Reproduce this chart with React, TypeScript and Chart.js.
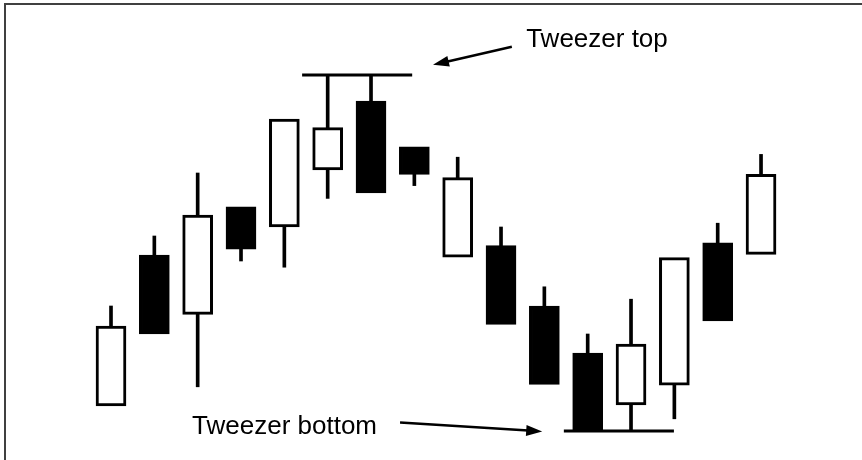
import React, { useEffect, useRef } from "react";
import { Chart, registerables } from "chart.js";

Chart.register(...registerables);

// Candle index (time) and OHLC prices
const CANDLE_INDEX = [0, 1, 2, 3, 4, 5, 6, 7, 8, 9, 10, 11, 12, 13, 14, 15];
const OPEN = [13.5, 51.25, 36.4, 63.3, 58.3, 72.5, 89.75, 78.3, 50.7, 53.6, 38.5, 26.7, 13.75, 18.7, 54.3, 51.4];
const CLOSE = [33.5, 31.5, 61.25, 52.7, 85.25, 83.1, 66.8, 71.4, 70.6, 33.9, 18.9, 7.25, 29, 50.6, 34.75, 71.4];
const HIGH = [38.5, 56, 71.75, 63.3, 85.25, 96.25, 96.25, 78.3, 75.7, 58.25, 43.3, 31.5, 40.2, 50.6, 59.2, 76.4];
const LOW = [13.5, 31.5, 18.3, 49.75, 48.2, 65.4, 66.8, 68.6, 50.7, 33.9, 18.9, 7.25, 7.25, 10.3, 34.75, 51.4];

// Tweezer level lines: [xStart, xEnd, price]
const TWEEZER_TOP = [4.41, 6.95, 96.25];
const TWEEZER_BOTTOM = [10.45, 12.99, 7.25];

// Annotation labels and arrows (data units)
const LABEL_TEXTS = ["Tweezer top", "Tweezer bottom"];
const LABEL_X = [9.58, 1.87];
const LABEL_Y = [103.25, 6.5];
const ARROW_FROM_X = [9.25, 6.67];
const ARROW_FROM_Y = [103.3, 9.4];
const ARROW_TO_X = [7.43, 9.95];
const ARROW_TO_Y = [98.8, 7.15];

const X_MIN = -2.5615;
const X_MAX = 17.33;
const Y_MIN = 0;
const Y_MAX = 115;

const annotationPlugin = {
  id: "tweezerAnnotations",
  afterDatasetsDraw(chart: any) {
    const ctx = chart.ctx;
    const xs = chart.scales.x;
    const ys = chart.scales.y;
    ctx.save();
    ctx.fillStyle = "#000";
    ctx.strokeStyle = "#000";
    for (let i = 0; i < ARROW_FROM_X.length; i++) {
      const x1 = xs.getPixelForValue(ARROW_FROM_X[i]);
      const y1 = ys.getPixelForValue(ARROW_FROM_Y[i]);
      const x2 = xs.getPixelForValue(ARROW_TO_X[i]);
      const y2 = ys.getPixelForValue(ARROW_TO_Y[i]);
      const ang = Math.atan2(y2 - y1, x2 - x1);
      const headLen = 16;
      const headHalf = 5.5;
      const bx = x2 - headLen * Math.cos(ang);
      const by = y2 - headLen * Math.sin(ang);
      ctx.lineWidth = 2.5;
      ctx.beginPath();
      ctx.moveTo(x1, y1);
      ctx.lineTo(bx + 2 * Math.cos(ang), by + 2 * Math.sin(ang));
      ctx.stroke();
      ctx.beginPath();
      ctx.moveTo(x2, y2);
      ctx.lineTo(bx + headHalf * Math.sin(ang), by - headHalf * Math.cos(ang));
      ctx.lineTo(bx - headHalf * Math.sin(ang), by + headHalf * Math.cos(ang));
      ctx.closePath();
      ctx.fill();
    }
    ctx.font = '26px "Liberation Sans", Arial, sans-serif';
    ctx.textAlign = "left";
    ctx.textBaseline = "alphabetic";
    for (let i = 0; i < LABEL_TEXTS.length; i++) {
      ctx.fillText(LABEL_TEXTS[i], xs.getPixelForValue(LABEL_X[i]), ys.getPixelForValue(LABEL_Y[i]));
    }
    ctx.restore();
  },
};

export default function App() {
  const canvasRef = useRef<HTMLCanvasElement | null>(null);

  useEffect(() => {
    document.body.style.margin = "0";
    const canvas = canvasRef.current;
    if (!canvas) return;

    const bodyData = CANDLE_INDEX.map((x, i) => ({ x, y: [OPEN[i], CLOSE[i]] }));
    const upperWick = CANDLE_INDEX.map((x, i) => {
      const top = Math.max(OPEN[i], CLOSE[i]);
      return HIGH[i] > top ? { x, y: [top - 1, HIGH[i]] } : { x, y: null };
    });
    const lowerWick = CANDLE_INDEX.map((x, i) => {
      const bot = Math.min(OPEN[i], CLOSE[i]);
      return LOW[i] < bot ? { x, y: [LOW[i], bot + 1] } : { x, y: null };
    });
    const bodyColors = CANDLE_INDEX.map((_, i) => (CLOSE[i] >= OPEN[i] ? "#ffffff" : "#000000"));

    const wickStyle = {
      type: "bar",
      backgroundColor: "#000000",
      borderWidth: 0,
      barThickness: 3,
      grouped: false,
      order: 2,
    };

    const chart = new Chart(canvas, {
      type: "bar",
      data: {
        datasets: [
          {
            type: "bar",
            label: "Body",
            data: bodyData as any,
            backgroundColor: bodyColors,
            borderColor: "#000000",
            borderWidth: 3,
            borderSkipped: false,
            barThickness: 30,
            grouped: false,
            order: 1,
          } as any,
          { ...wickStyle, label: "Upper wick", data: upperWick } as any,
          { ...wickStyle, label: "Lower wick", data: lowerWick } as any,
          {
            type: "line",
            label: "Tweezer top",
            data: [
              { x: TWEEZER_TOP[0], y: TWEEZER_TOP[2] },
              { x: TWEEZER_TOP[1], y: TWEEZER_TOP[2] },
            ],
            borderColor: "#000000",
            borderWidth: 3,
            pointRadius: 0,
            order: 0,
          } as any,
          {
            type: "line",
            label: "Tweezer bottom",
            data: [
              { x: TWEEZER_BOTTOM[0], y: TWEEZER_BOTTOM[2] },
              { x: TWEEZER_BOTTOM[1], y: TWEEZER_BOTTOM[2] },
            ],
            borderColor: "#000000",
            borderWidth: 3,
            pointRadius: 0,
            order: 0,
          } as any,
        ],
      },
      options: {
        responsive: false,
        animation: false,
        layout: { padding: 0 },
        plugins: {
          legend: { display: false },
          tooltip: { enabled: false },
        },
        scales: {
          x: { type: "linear", min: X_MIN, max: X_MAX, display: false, offset: false },
          y: { min: Y_MIN, max: Y_MAX, display: false },
        },
      },
      plugins: [annotationPlugin],
    });

    return () => chart.destroy();
  }, []);

  return (
    <div style={{ position: "relative", width: 862, height: 460, background: "#fff" }}>
      <canvas ref={canvasRef} width={862} height={460} style={{ display: "block" }} />
      <div
        style={{
          position: "absolute",
          left: 4,
          top: 3,
          right: 0,
          bottom: 0,
          borderTop: "2px solid #404040",
          borderLeft: "2px solid #404040",
          pointerEvents: "none",
        }}
      />
    </div>
  );
}
